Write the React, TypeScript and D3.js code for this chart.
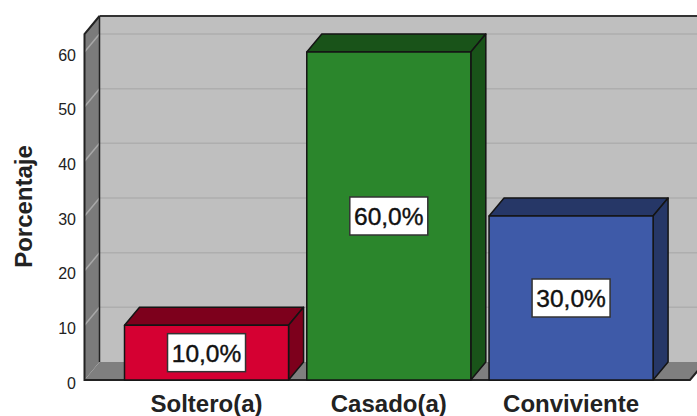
import React from "react";
import * as d3 from "d3";

const categories = ["Soltero(a)", "Casado(a)", "Conviviente"];
const percentages = [10, 60, 30];
const barLabels = ["10,0%", "60,0%", "30,0%"];
const frontColors = ["#d50032", "#2b862c", "#3e5aa8"];
const sideColors = ["#7d001c", "#195319", "#263767"];
const yTicks = [0, 10, 20, 30, 40, 50, 60];

const W = 697, H = 416;
const DX = 15, DY = -18;
const FONT = "'Liberation Sans', Arial, sans-serif";
const y = d3.scaleLinear().domain([0, 60]).range([380, 52]);
const x = d3.scaleBand<string>().domain(categories).range([115.4, 662.2]).paddingInner(0.1).paddingOuter(0.05);
const wallLeft = 84.5, wallRight = 690;
const plotTop = 16;
const line = d3.line();

export default function App() {
  const y0 = y(0);
  const P = (pts: [number, number][]) => line(pts) + "Z";
  return (
    <svg width={W} height={H} style={{ position: "absolute", left: 0, top: 0, background: "#fff" }}>
      <rect x={wallLeft + DX} y={plotTop} width={W} height={y0 + DY - plotTop} fill="#bfbfbf" />
      <path d={P([[wallLeft, y0], [wallLeft + DX, y0 + DY], [wallLeft + DX, plotTop], [wallLeft, plotTop - DY]])} fill="#7b7b7b" />
      <path d={P([[wallLeft, y0], [wallLeft + DX, y0 + DY], [wallRight + DX, y0 + DY], [wallRight, y0]])} fill="#7f7f7f" />
      {yTicks.filter((t) => t > 0).map((t) => (
        <g key={t}>
          <line x1={wallLeft + DX} x2={W} y1={y(t) + DY} y2={y(t) + DY} stroke="#aeaeae" strokeWidth={1.5} />
          <line x1={wallLeft} x2={wallLeft + DX} y1={y(t)} y2={y(t) + DY} stroke="#a8a8a8" strokeWidth={1.5} />
        </g>
      ))}
      <line x1={wallLeft + DX} x2={W} y1={plotTop} y2={plotTop} stroke="#333" strokeWidth={2} />
      <line x1={wallLeft + DX} x2={wallLeft + DX} y1={plotTop} y2={y0 + DY} stroke="#222" strokeWidth={1.5} />
      <path d={`M${wallLeft + DX},${plotTop}L${wallLeft},${plotTop - DY}V${y0}H${wallRight}L${wallRight + DX},${y0 + DY}`} fill="none" stroke="#222" strokeWidth={2} />
      {categories.map((c, i) => {
        const bx = x(c)!, bw = x.bandwidth(), top = y(percentages[i]);
        return (
          <g key={c} stroke="#141414" strokeWidth={1.5} strokeLinejoin="round">
            <path d={P([[bx, top], [bx + DX, top + DY], [bx + bw + DX, top + DY], [bx + bw, top]])} fill={sideColors[i]} />
            <path d={P([[bx + bw, top], [bx + bw + DX, top + DY], [bx + bw + DX, y0 + DY], [bx + bw, y0]])} fill={sideColors[i]} />
            <rect x={bx} y={top} width={bw} height={y0 - top} fill={frontColors[i]} />
          </g>
        );
      })}
      {categories.map((c, i) => {
        const cx = x(c)! + x.bandwidth() / 2, cy = (y(percentages[i]) + y0) / 2;
        return (
          <g key={c}>
            <rect x={cx - 39} y={cy - 19} width={78} height={38} fill="#fff" stroke="#333" strokeWidth={1.5} />
            <text x={cx} y={cy + 9} textAnchor="middle" fontFamily={FONT} fontSize={24.5} fill="#111" stroke="#111" strokeWidth={0.4}>{barLabels[i]}</text>
            <text x={cx} y={412} textAnchor="middle" fontFamily={FONT} fontSize={24} fontWeight="bold" fill="#222">{c}</text>
          </g>
        );
      })}
      {yTicks.map((t) => (
        <text key={t} x={76} y={y(t) + 8.5} textAnchor="end" fontFamily={FONT} fontSize={16} fill="#222">{t}</text>
      ))}
      <text transform="translate(32,206.5) rotate(-90)" textAnchor="middle" fontFamily={FONT} fontSize={24} fontWeight="bold" fill="#222">Porcentaje</text>
    </svg>
  );
}
